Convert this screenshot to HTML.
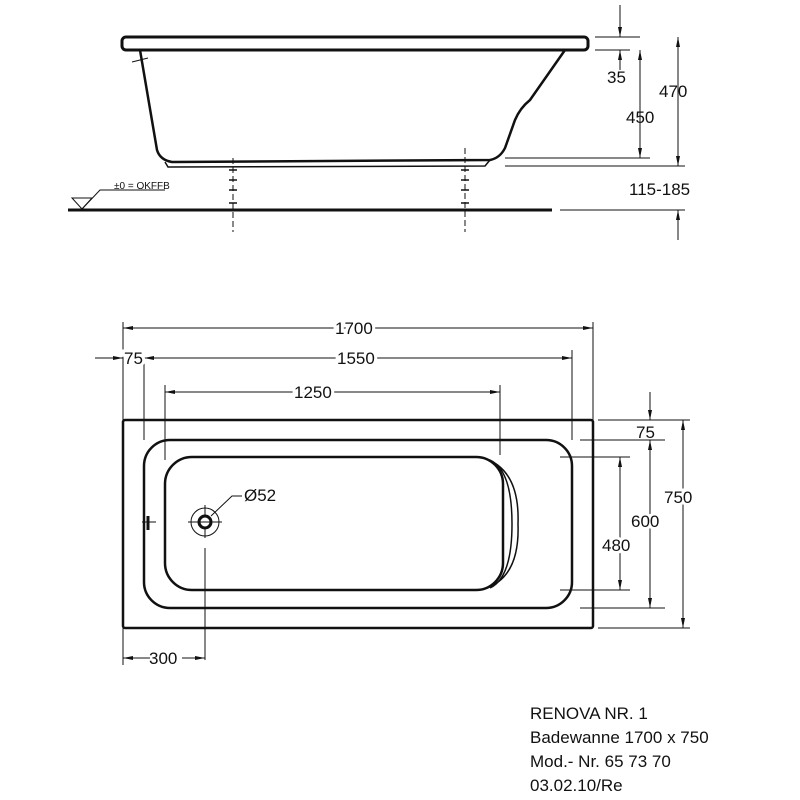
<!DOCTYPE html>
<html><head><meta charset="utf-8"><style>body{margin:0;background:#fff}svg{display:block}text{font-family:"Liberation Sans",sans-serif;fill:#111}</style></head><body>
<svg width="800" height="800" viewBox="0 0 800 800" xmlns="http://www.w3.org/2000/svg">
<defs><marker id="a" viewBox="0 0 10 10" refX="10" refY="5" markerWidth="10" markerHeight="10" markerUnits="userSpaceOnUse" orient="auto-start-reverse"><path d="M0,3 L10,5 L0,7 z" fill="#111"/></marker></defs>
<g stroke="#111" fill="none">
<!-- side view -->
<rect x="122" y="37" width="466" height="13" rx="4" stroke-width="3"/>
<path d="M140,50 L157,150 Q160,160 172,162 L490,160 Q500,158 505,148 L515,120 Q520,108 530,100 L565,50" stroke-width="2.5"/>
<path d="M165,162 L168,167 L485,166 L490,160" stroke-width="1.5"/>
<line x1="68" y1="210" x2="552" y2="210" stroke-width="3"/>
<line x1="233" y1="158" x2="233" y2="232" stroke-width="1" stroke-dasharray="6,3"/>
<line x1="465" y1="148" x2="465" y2="232" stroke-width="1" stroke-dasharray="6,3"/>
<path d="M229,170 h8 M229,180 h8 M229,190 h8 M229,203 h8 M461,170 h8 M461,180 h8 M461,190 h8 M461,203 h8" stroke-width="1.5"/>
<path d="M72,198 L92,198 L82,209 z" stroke-width="1"/>
<path d="M82,209 L100,190 L165,190" stroke-width="1"/>
<line x1="132" y1="62" x2="148" y2="58" stroke-width="1"/>
<line x1="595" y1="37" x2="640" y2="37" stroke-width="1"/><line x1="595" y1="50" x2="630" y2="50" stroke-width="1"/>
<line x1="620" y1="5" x2="620" y2="37" stroke-width="1" marker-end="url(#a)"/>
<line x1="620" y1="70" x2="620" y2="50" stroke-width="1" marker-end="url(#a)"/>
<line x1="640" y1="50" x2="640" y2="158" stroke-width="1" marker-start="url(#a)" marker-end="url(#a)"/>
<line x1="678" y1="37" x2="678" y2="166" stroke-width="1" marker-start="url(#a)" marker-end="url(#a)"/>
<line x1="505" y1="158" x2="650" y2="158" stroke-width="1"/><line x1="505" y1="166" x2="685" y2="166" stroke-width="1"/>
<line x1="560" y1="210" x2="685" y2="210" stroke-width="1"/>
<line x1="678" y1="240" x2="678" y2="210" stroke-width="1" marker-end="url(#a)"/>
<!-- plan view -->
<rect x="123" y="420" width="470" height="208" rx="2" stroke-width="2.5"/>
<rect x="144" y="440" width="428" height="168" rx="26" stroke-width="2.5"/>
<rect x="165" y="457" width="338" height="133" rx="27" stroke-width="2.5"/>
<path d="M484,458 Q520,470 518,524 Q520,578 484,589 M490,460 Q512,470 512,524 Q512,578 490,588" stroke-width="1.5"/>
<circle cx="205" cy="522" r="14" stroke-width="1"/><circle cx="205" cy="522" r="6" stroke-width="3"/>
<path d="M188,522 h34 M205,505 v12 M205,528 v10 M205,548 v112" stroke-width="1"/>
<path d="M211,516 L232,496 L242,496" stroke-width="1"/>
<path d="M142,522 h14" stroke-width="1"/><line x1="148" y1="516" x2="148" y2="530" stroke-width="3"/>
<!-- ext lines -->
<path d="M123,322 V420 M144,350 V440 M165,385 V460 M500,385 V455 M572,350 V440 M593,322 V420 M123,628 V665" stroke-width="1"/>
<line x1="123" y1="328" x2="593" y2="328" stroke-width="1" marker-start="url(#a)" marker-end="url(#a)"/>
<line x1="95" y1="358" x2="123" y2="358" stroke-width="1" marker-end="url(#a)"/>
<line x1="144" y1="358" x2="572" y2="358" stroke-width="1" marker-start="url(#a)" marker-end="url(#a)"/>
<line x1="165" y1="392" x2="500" y2="392" stroke-width="1" marker-start="url(#a)" marker-end="url(#a)"/>
<line x1="123" y1="658" x2="150" y2="658" stroke-width="1" marker-start="url(#a)"/>
<line x1="182" y1="658" x2="205" y2="658" stroke-width="1" marker-end="url(#a)"/>
<path d="M598,420 H690 M580,440 H665 M560,457 H630 M560,590 H630 M580,608 H665 M598,628 H690" stroke-width="1"/>
<line x1="650" y1="392" x2="650" y2="420" stroke-width="1" marker-end="url(#a)"/>
<line x1="650" y1="440" x2="650" y2="608" stroke-width="1" marker-start="url(#a)" marker-end="url(#a)"/>
<line x1="683" y1="420" x2="683" y2="628" stroke-width="1" marker-start="url(#a)" marker-end="url(#a)"/>
<line x1="620" y1="457" x2="620" y2="590" stroke-width="1" marker-start="url(#a)" marker-end="url(#a)"/>
</g>
<g font-size="17">
<text x="607" y="83">35</text><text x="626" y="123">450</text><text x="659" y="97">470</text><text x="629" y="195">115-185</text>
<text x="114" y="189" font-size="10">±0 = OKFFB</text>
<text x="335" y="334" style="paint-order:stroke" stroke="#fff" stroke-width="6">1700</text>
<text x="124" y="364" style="paint-order:stroke" stroke="#fff" stroke-width="6">75</text>
<text x="337" y="364" style="paint-order:stroke" stroke="#fff" stroke-width="6">1550</text>
<text x="294" y="398" style="paint-order:stroke" stroke="#fff" stroke-width="6">1250</text>
<text x="244" y="501">Ø52</text>
<text x="149" y="664">300</text>
<text x="636" y="438">75</text>
<text x="664" y="503" style="paint-order:stroke" stroke="#fff" stroke-width="6">750</text>
<text x="631" y="527" style="paint-order:stroke" stroke="#fff" stroke-width="6">600</text>
<text x="602" y="551" style="paint-order:stroke" stroke="#fff" stroke-width="6">480</text>
<text x="530" y="719">RENOVA NR. 1</text>
<text x="530" y="743">Badewanne 1700 x 750</text>
<text x="530" y="767">Mod.- Nr. 65 73 70</text>
<text x="530" y="791">03.02.10/Re</text>
</g>
</svg>
</body></html>
